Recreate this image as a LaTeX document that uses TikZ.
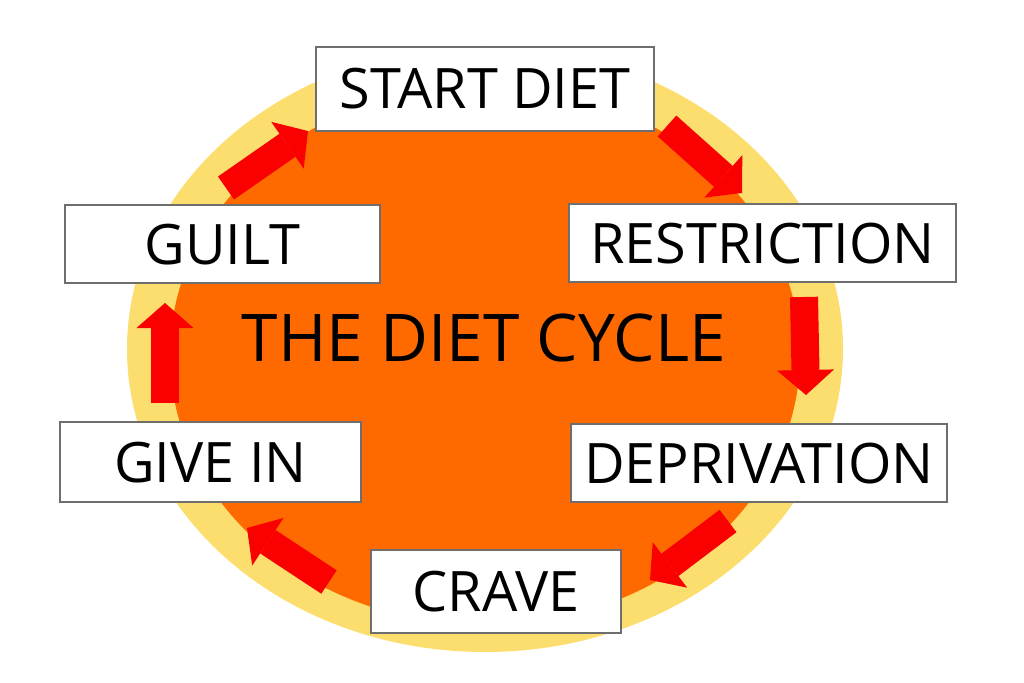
\documentclass[tikz,border=0pt]{standalone}
\usepackage{fontspec}
\setmainfont{Open Sans}
\usepackage{xcolor}
\usepackage{tikz}
\usetikzlibrary{calc,arrows.meta,positioning}
\definecolor{ringyellow}{RGB}{252,222,110}
\definecolor{dietorange}{RGB}{255,106,0}
\definecolor{cyclered}{RGB}{250,0,0}
\definecolor{boxgray}{RGB}{110,110,110}

\begin{document}
\begin{tikzpicture}[x=1bp, y=-1bp,
      stage/.style={draw=boxgray, line width=1.5bp, fill=white, inner sep=0pt,
        font=\fontsize{56}{60}\selectfont, text height=40bp, text depth=0pt},
      blockarrow/.style={cyclered, line width=28bp,
        -{Triangle[length=25bp, width=57bp, line width=0pt]}}]
    \useasboundingbox (0,0) rectangle (1024,683);
    \fill[ringyellow] (485,349) ellipse [x radius=358, y radius=303];
    \fill[dietorange] (485,355) ellipse [x radius=315, y radius=270];

    \node[font=\fontsize{66}{70}\selectfont, text height=47bp, text depth=0pt] (title) at (484,338) {THE DIET CYCLE};

    \node[stage, minimum width=338bp, minimum height=84bp] (start) at (485,89) {START DIET};
    \node[stage, minimum width=387bp, minimum height=78bp] (restr) at (762.5,243) {RESTRICTION};
    \node[stage, minimum width=376bp, minimum height=78bp] (depr) at (759,463) {DEPRIVATION};
    \node[stage, minimum width=250bp, minimum height=83bp] (crave) at (496,591.5) {CRAVE};
    \node[stage, minimum width=301bp, minimum height=80bp] (givein) at (210.5,462) {GIVE IN};
    \node[stage, minimum width=315bp, minimum height=78bp] (guilt) at (222.5,244) {GUILT};

    % arrow ends around the ring
    \coordinate (guilt-out) at (226,188);  \coordinate (start-in) at (308,131);
    \coordinate (start-out) at (667,126);  \coordinate (restr-in) at (742,193);
    \coordinate (restr-out) at (804,297);  \coordinate (depr-in) at (806,395);
    \coordinate (depr-out) at (728,521);   \coordinate (crave-in) at (650,580);
    \coordinate (crave-out) at (329,582);  \coordinate (givein-in) at (247,528);
    \coordinate (givein-out) at (165,403); \coordinate (guilt-in) at (165,303);

    \draw[blockarrow] (guilt-out) -- (start-in);
    \draw[blockarrow] (start-out) -- (restr-in);
    \draw[blockarrow] (restr-out) -- (depr-in);
    \draw[blockarrow] (depr-out) -- (crave-in);
    \draw[blockarrow] (crave-out) -- (givein-in);
    \draw[blockarrow] (givein-out) -- (guilt-in);
  \end{tikzpicture}
\end{document}
